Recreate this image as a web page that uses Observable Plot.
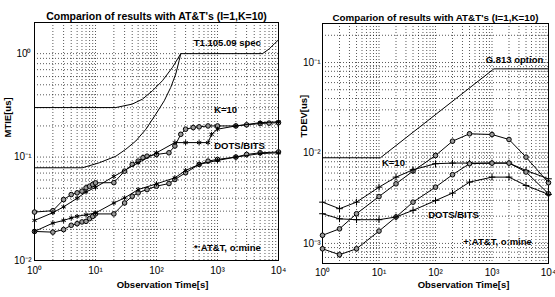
<!DOCTYPE html>
<html><head><meta charset="utf-8">
<script src="https://cdn.jsdelivr.net/npm/d3@7"></script>
<script src="https://cdn.jsdelivr.net/npm/@observablehq/plot@0.6"></script>
<style>
body{margin:0;background:#fff;width:555px;height:297px;overflow:hidden;position:relative;font-family:"Liberation Sans",Arial,sans-serif}
#left{position:absolute;left:0;top:0}
#right{position:absolute;left:290px;top:0}
</style></head><body>
<div id="left"></div><div id="right"></div>
<script>
// ---------- Left panel: MTIE ----------
const titleText = "Comparion of results with AT&T's (I=1,K=10)";
const xTickValues = [1, 10, 100, 1000, 10000];
const mtieTickValues = [0.01, 0.1, 1];
const tdevTickValues = [0.001, 0.01, 0.1];

const mtieTimeA = [1,2,3,4,5,6,7,8,9,10,20,30,40,50,60,70,100,160,200,250,300,400,500,700,1000,2000,3000,5000,7000,10000];
const mtieMineUpper = [0.0294,0.0303,0.0388,0.0434,0.0451,0.0468,0.0504,0.0523,0.0543,0.0563,0.0566,0.0731,0.0849,0.0914,0.0986,0.102,0.106,0.110,0.128,0.166,0.186,0.193,0.196,0.200,0.200,0.200,0.205,0.211,0.213,0.215];
const mtieTimeB = [1,2,3,5,7,10,20,50,100,200,300,500,700,800,1000,2000,5000,10000];
const mtieAttUpper = [0.0244,0.029,0.033,0.040,0.046,0.051,0.065,0.088,0.110,0.138,0.138,0.138,0.138,0.166,0.186,0.200,0.215,0.219];
const mtieTimeC = [1,2,3,4,5,6,7,8,9,10,20,30,40,50,70,100,160,200,300,500,700,1000,2000,3000,5000,10000];
const mtieMineLower = [0.0191,0.0188,0.0199,0.0219,0.0227,0.0236,0.0239,0.0254,0.0267,0.0282,0.0282,0.0360,0.0418,0.0451,0.0485,0.0523,0.0555,0.0607,0.0705,0.0849,0.0914,0.0949,0.100,0.106,0.110,0.112];
const mtieTimeD = [1,2,3,4,5,7,10,20,30,50,100,200,300,500,1000,2000,5000,10000];
const mtieAttLower = [0.0191,0.0230,0.0244,0.0258,0.0267,0.0277,0.0288,0.0360,0.0403,0.0485,0.0551,0.0630,0.0742,0.0849,0.0928,0.100,0.108,0.110];
const specTime = [1,21.5,40,59,86,125,183,250,5470,7030,8490,10000];
const specMtie = [0.301,0.301,0.325,0.363,0.438,0.547,0.737,1,1,1.11,1.24,1.36];
const k10Time = [1,6.1,11.5,21.6,31.4,45.8,67,97.5,134,171,207,235,250];
const k10Mtie = [0.0788,0.0788,0.088,0.102,0.119,0.143,0.186,0.260,0.350,0.471,0.635,0.855,1];
const mtieLabels = ["T1.105.09 spec", "K=10", "DOTS/BITS", "*:AT&T, o:mine"];
const mtieLabelT = [1450, 1360, 2300, 1450];
const mtieLabelV = [1.28, 0.286, 0.128, 0.0131];

// ---------- Right panel: TDEV ----------
const tdevTime = [1,2,4,10,20,40,100,200,400,1000,2000,4000,10000];
const tdevMineUpper = [0.00123,0.00145,0.00213,0.00330,0.00456,0.00631,0.00937,0.0135,0.0163,0.0160,0.0141,0.0090,0.00469];
const tdevAttUpper = [0.00286,0.00242,0.00286,0.00419,0.00541,0.00652,0.00761,0.00773,0.00773,0.00773,0.00773,0.00641,0.00518];
const tdevMineLower = [0.000873,0.00075,0.000873,0.00137,0.00196,0.00286,0.00419,0.00575,0.00761,0.00773,0.00773,0.00616,0.00354];
const tdevAttLower = [0.00213,0.00187,0.00183,0.00183,0.00196,0.00232,0.00298,0.00360,0.00476,0.00541,0.00541,0.00437,0.00348];
const g813Time = [1,10.6,1080,10000];
const g813Tdev = [0.00885,0.00885,0.0851,0.0851];
const tdevLabels = ["G.813 option", "K=10", "DOTS/BITS", "+:AT&T, o:mine"];
const tdevLabelT = [2500, 18, 208, 1250];
const tdevLabelV = [0.108, 0.00766, 0.00204, 0.00103];

// ---------- helpers ----------
const sup = {"-":"\u207B","0":"\u2070","1":"\u00B9","2":"\u00B2","3":"\u00B3","4":"\u2074"};
const fmt = d => "10" + String(Math.round(Math.log10(d))).split("").map(c => sup[c]).join("");
const toRows = (t, v) => t.map((x, i) => ({t: x, v: v[i]}));
const minorTicks = (lo, hi) => {
  const out = [];
  for (let e = lo; e < hi; e++) for (let k = 1; k < 10; k++) out.push(k * Math.pow(10, e));
  out.push(Math.pow(10, hi));
  return out;
};
const gridStyle = {stroke: "#000", strokeOpacity: 0.65, strokeDasharray: "1,2", strokeWidth: 1};
const style = {fontFamily: "'Liberation Sans', Arial, sans-serif", fontSize: "10px", background: "white", color: "black"};

function series(rows, symbol, withLine = true) {
  const m = [];
  if (withLine) m.push(Plot.line(rows, {x: "t", y: "v", stroke: "black", strokeWidth: 1}));
  m.push(Plot.dot(rows, {x: "t", y: "v", symbol, r: 2.3, stroke: "black", strokeWidth: 1, fill: symbol === "circle" ? "#999" : "none"}));
  return m;
}

const left = Plot.plot({
  width: 290, height: 297,
  marginLeft: 34, marginRight: 12, marginTop: 22, marginBottom: 37,
  style,
  x: {type: "log", domain: [1, 1e4], ticks: xTickValues, tickFormat: fmt, tickSize: 0, tickPadding: 6, label: null},
  y: {type: "log", domain: [0.01, 2], ticks: mtieTickValues, tickFormat: fmt, tickSize: 0, tickPadding: 3, label: null},
  marks: [
    Plot.gridX(minorTicks(0, 4), gridStyle),
    Plot.gridY(minorTicks(-2, 0).concat([2]), gridStyle),
    Plot.frame({stroke: "black", strokeWidth: 1}),
    Plot.line(toRows(specTime, specMtie), {x: "t", y: "v", stroke: "black", strokeWidth: 1}),
    Plot.line(toRows(k10Time, k10Mtie), {x: "t", y: "v", stroke: "black", strokeWidth: 1}),
    ...series(toRows(mtieTimeA, mtieMineUpper), "circle"),
    ...series(toRows(mtieTimeB, mtieAttUpper), "asterisk"),
    ...series(toRows(mtieTimeC, mtieMineLower), "circle"),
    ...series(toRows(mtieTimeD, mtieAttLower), "asterisk"),
    Plot.text(mtieLabels, {x: (d, i) => mtieLabelT[i], y: (d, i) => mtieLabelV[i], text: d => d, fontSize: 9.5, fontWeight: "bold", fill: "black"}),
    Plot.text([titleText], {frameAnchor: "top", dy: -10, fontSize: 10.5, fontWeight: "bold", fill: "black"}),
    Plot.text(["Observation Time[s]"], {frameAnchor: "bottom", dy: 27, dx: 6, fontSize: 9.5, fontWeight: "bold", fill: "black"}),
    Plot.text(["MTIE[us]"], {frameAnchor: "left", dx: -27, dy: -4, rotate: -90, fontSize: 9.5, fontWeight: "bold", fill: "black"})
  ]
});
document.getElementById("left").appendChild(left);

const right = Plot.plot({
  width: 265, height: 297,
  marginLeft: 32, marginRight: 7, marginTop: 23, marginBottom: 34,
  style,
  x: {type: "log", domain: [1, 1e4], ticks: xTickValues, tickFormat: fmt, tickSize: 0, tickPadding: 5, label: null},
  y: {type: "log", domain: [0.0006, 0.27], ticks: tdevTickValues, tickFormat: fmt, tickSize: 0, tickPadding: 2, label: null},
  marks: [
    Plot.gridX(minorTicks(0, 4), gridStyle),
    Plot.gridY(minorTicks(-4, -1).filter(d => d >= 0.0006).concat([0.2]), gridStyle),
    Plot.frame({stroke: "black", strokeWidth: 1}),
    Plot.line(toRows(g813Time, g813Tdev), {x: "t", y: "v", stroke: "black", strokeWidth: 1}),
    ...series(toRows(tdevTime, tdevMineUpper), "circle"),
    ...series(toRows(tdevTime, tdevAttUpper), "plus"),
    ...series(toRows(tdevTime, tdevMineLower), "circle"),
    ...series(toRows(tdevTime, tdevAttLower), "plus"),
    Plot.text(tdevLabels, {x: (d, i) => tdevLabelT[i], y: (d, i) => tdevLabelV[i], text: d => d, fontSize: 9.5, fontWeight: "bold", fill: "black"}),
    Plot.text([titleText], {frameAnchor: "top", dy: -9, fontSize: 9.8, fontWeight: "bold", fill: "black"}),
    Plot.text(["Observation Time[s]"], {frameAnchor: "bottom", dy: 24, dx: 28, fontSize: 9.5, fontWeight: "bold", fill: "black"}),
    Plot.text(["TDEV[us]"], {frameAnchor: "left", dx: -19, dy: -6, rotate: -90, fontSize: 9.5, fontWeight: "bold", fill: "black"})
  ]
});
document.getElementById("right").appendChild(right);
</script>
</body></html>
